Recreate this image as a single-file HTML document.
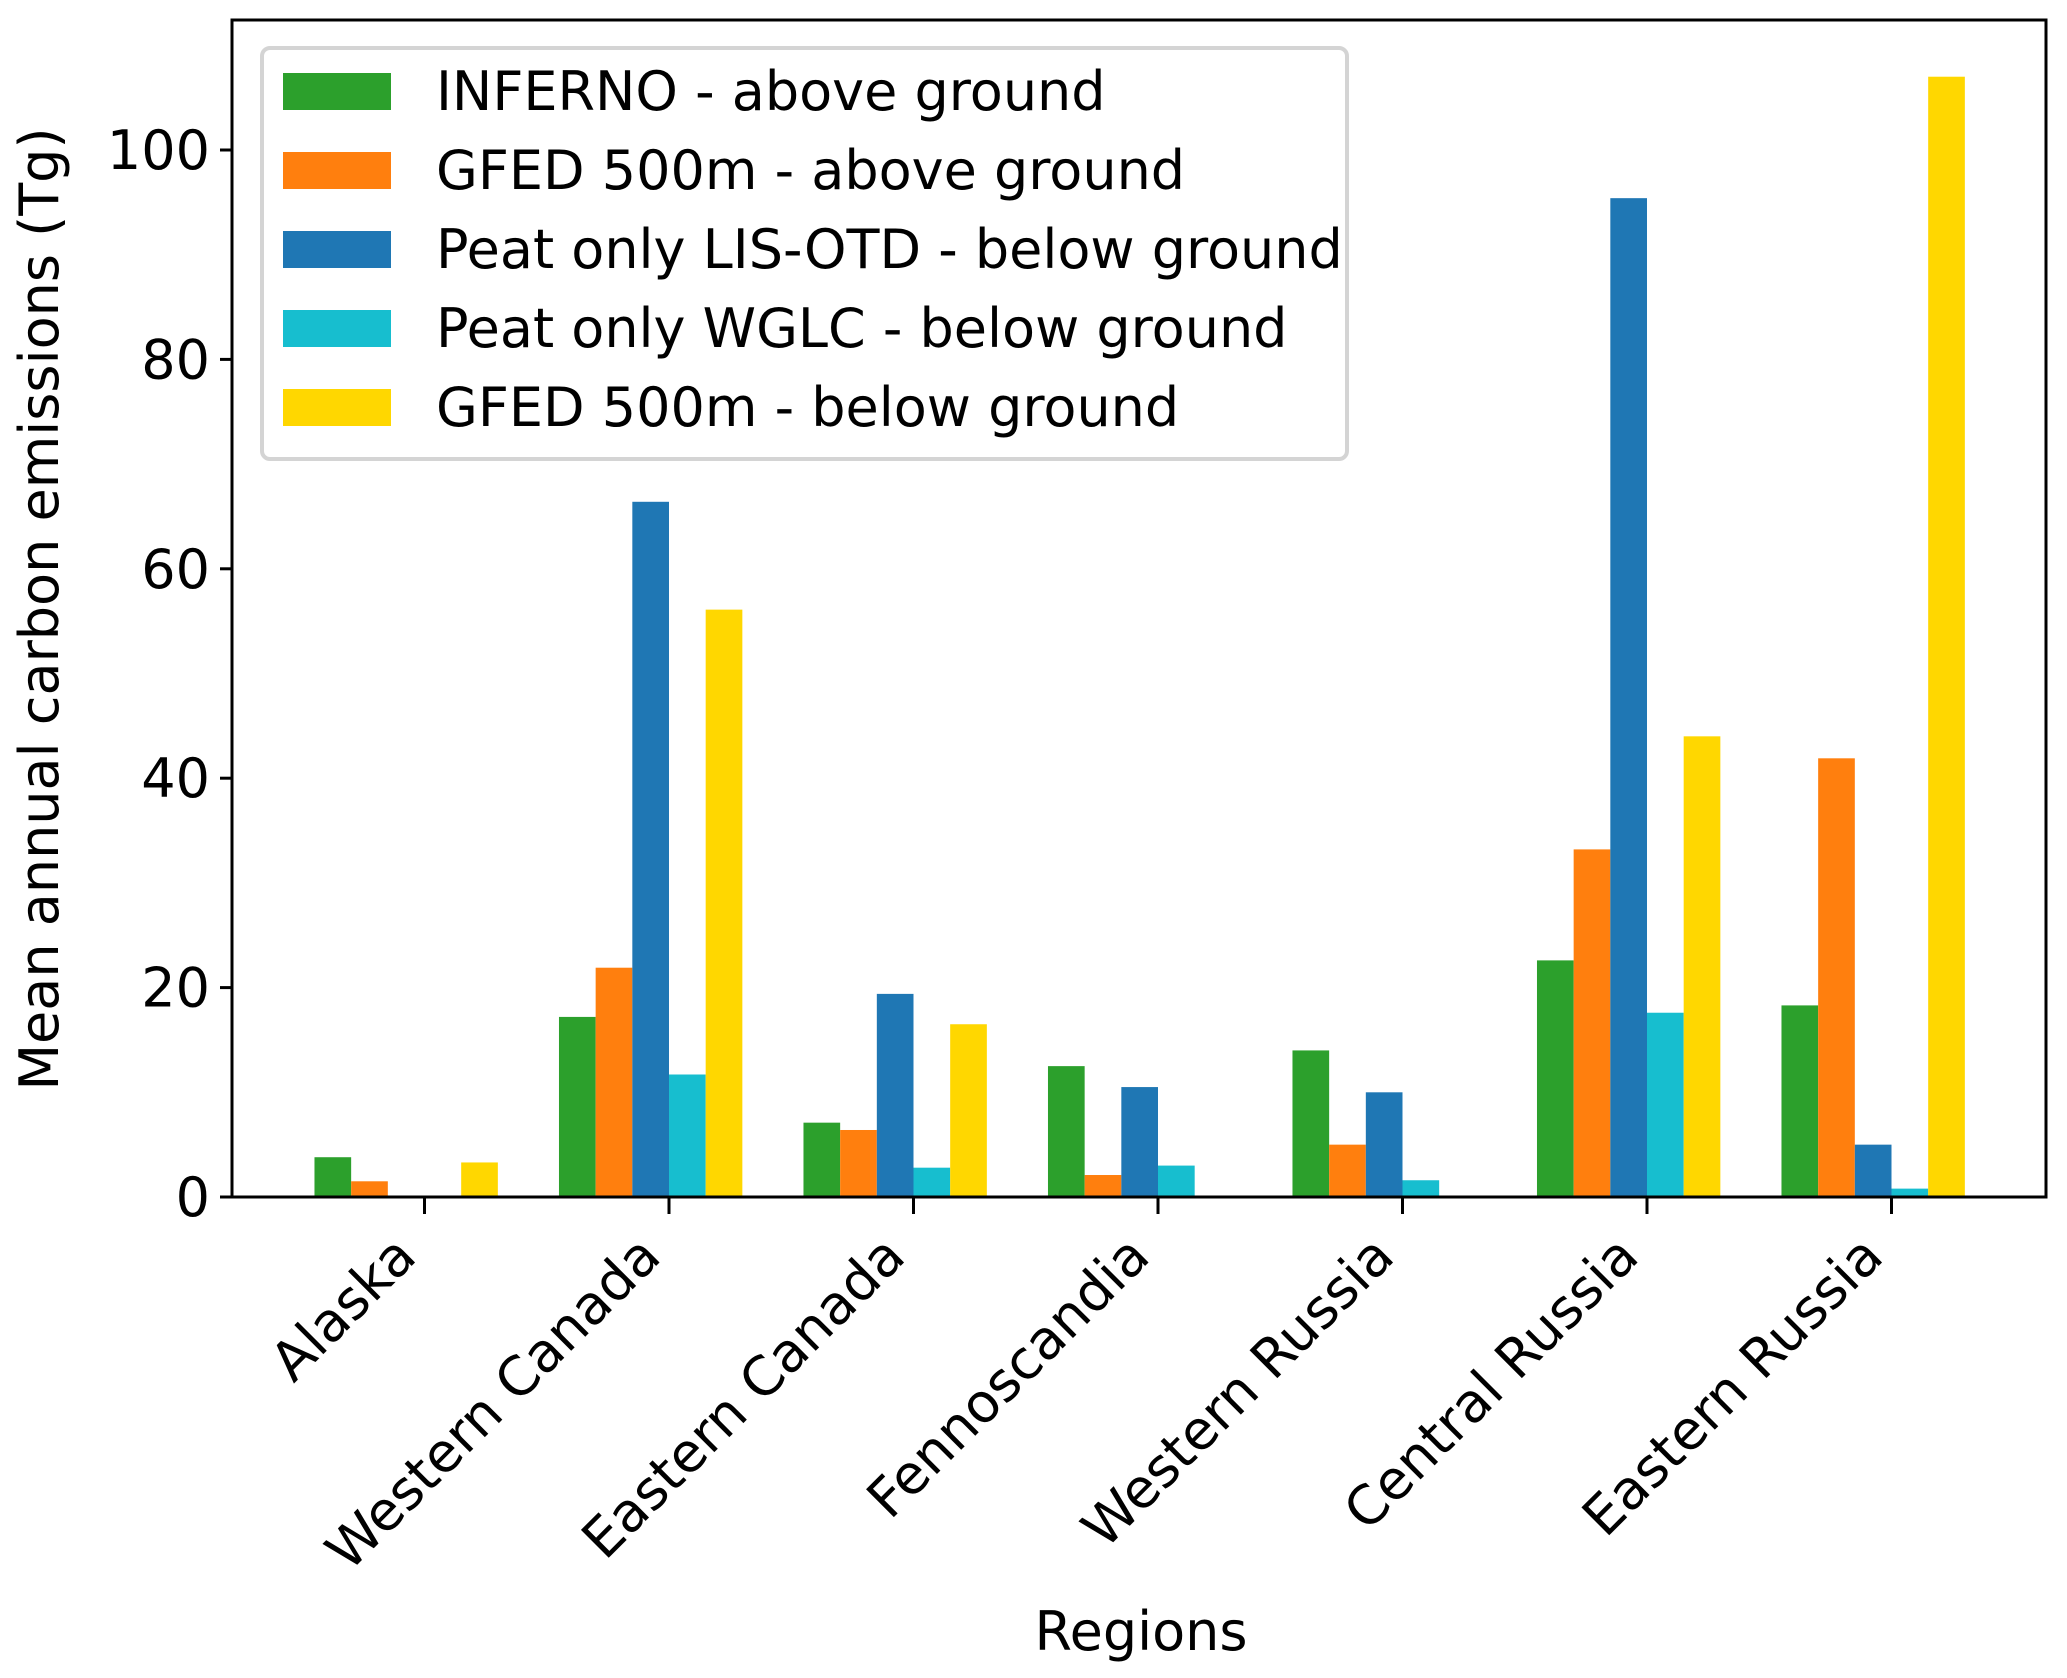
<!DOCTYPE html>
<html><head><meta charset="utf-8"><style>
html,body{margin:0;padding:0;background:#fff;}
svg{display:block;font-family:"DejaVu Sans","Liberation Sans",sans-serif;}
</style></head><body>
<svg id="chart" width="2067" height="1678" viewBox="0 0 2067 1678">
<rect width="2067" height="1678" fill="#fff"/>
<g id="bars"></g>
<g id="axes"></g>
<g id="legend"></g>
<text x="1141" y="1650" font-size="54" text-anchor="middle">Regions</text>
<text transform="translate(58,609) rotate(-90)" font-size="54" text-anchor="middle">Mean annual carbon emissions (Tg)</text>
</svg>
<script>
const categories = ["Alaska","Western Canada","Eastern Canada","Fennoscandia","Western Russia","Central Russia","Eastern Russia"];
const seriesNames = ["INFERNO - above ground","GFED 500m - above ground","Peat only LIS-OTD - below ground","Peat only WGLC - below ground","GFED 500m - below ground"];
const seriesColors = ["#2ca02c","#ff7f0e","#1f77b4","#17becf","#ffd700"];
const inferno = [3.8,17.2,7.1,12.5,14.0,22.6,18.3];
const gfedAbove = [1.5,21.9,6.4,2.1,5.0,33.2,41.9];
const peatLis = [0,66.4,19.4,10.5,10.0,95.4,5.0];
const peatWglc = [0,11.7,2.8,3.0,1.6,17.6,0.8];
const gfedBelow = [3.3,56.1,16.5,0,0,44.0,107.0];
const yTicks = [0,20,40,60,80,100];
const series = [inferno,gfedAbove,peatLis,peatWglc,gfedBelow];

const NS="http://www.w3.org/2000/svg";
const L=232,R=2046,T=20,B=1197;
const x0=424.5, dx=244.5, barW=0.15*dx;
function xScale(i){return x0+i*dx;}
function yScale(v){return B-v*10.47;}
function mk(tag,attrs,parent){const e=document.createElementNS(NS,tag);for(const k in attrs)e.setAttribute(k,attrs[k]);parent.appendChild(e);return e;}

const gb=document.getElementById('bars');
series.forEach((vals,s)=>{
  vals.forEach((v,i)=>{
    const cx=xScale(i)+(s-2.5)*barW;
    const r=mk('rect',{x:cx-barW/2,y:yScale(v),width:barW,height:B-yScale(v),fill:seriesColors[s]},gb);
    
    
  });
});

const ga=document.getElementById('axes');
yTicks.forEach(t=>{
  const y=yScale(t);
  const l=mk('line',{x1:L-12,x2:L,y1:y,y2:y,stroke:'#000','stroke-width':3},ga);
  
  
  const tx=mk('text',{x:L-22,y:y+19,'font-size':54,'text-anchor':'end'},ga);
  tx.textContent=t;
  
  
});
categories.forEach((c,i)=>{
  const x=xScale(i);
  const l=mk('line',{x1:x,x2:x,y1:B,y2:B+17,stroke:'#000','stroke-width':3},ga);
  
  
  const tx=mk('text',{transform:'translate('+(x-6)+','+(B+62)+') rotate(-45)','font-size':54,'text-anchor':'end'},ga);
  tx.textContent=c;
  
  
});
const fr=mk('rect',{x:L,y:T,width:R-L,height:B-T,fill:'none',stroke:'#000','stroke-width':3},ga);



const gl=document.getElementById('legend');
const lb=mk('rect',{x:262,y:48,width:1085,height:411,rx:8,fill:'#fff',stroke:'#d4d4d4','stroke-width':4},gl);


seriesNames.forEach((n,s)=>{
  const cy=91+s*79;
  const p=mk('rect',{x:283,y:cy-18,width:108,height:37,fill:seriesColors[s]},gl);
  
  
  const t=mk('text',{x:436,y:cy+19,'font-size':54},gl);
  t.textContent=n;
  
  
});
</script>
</body></html>
